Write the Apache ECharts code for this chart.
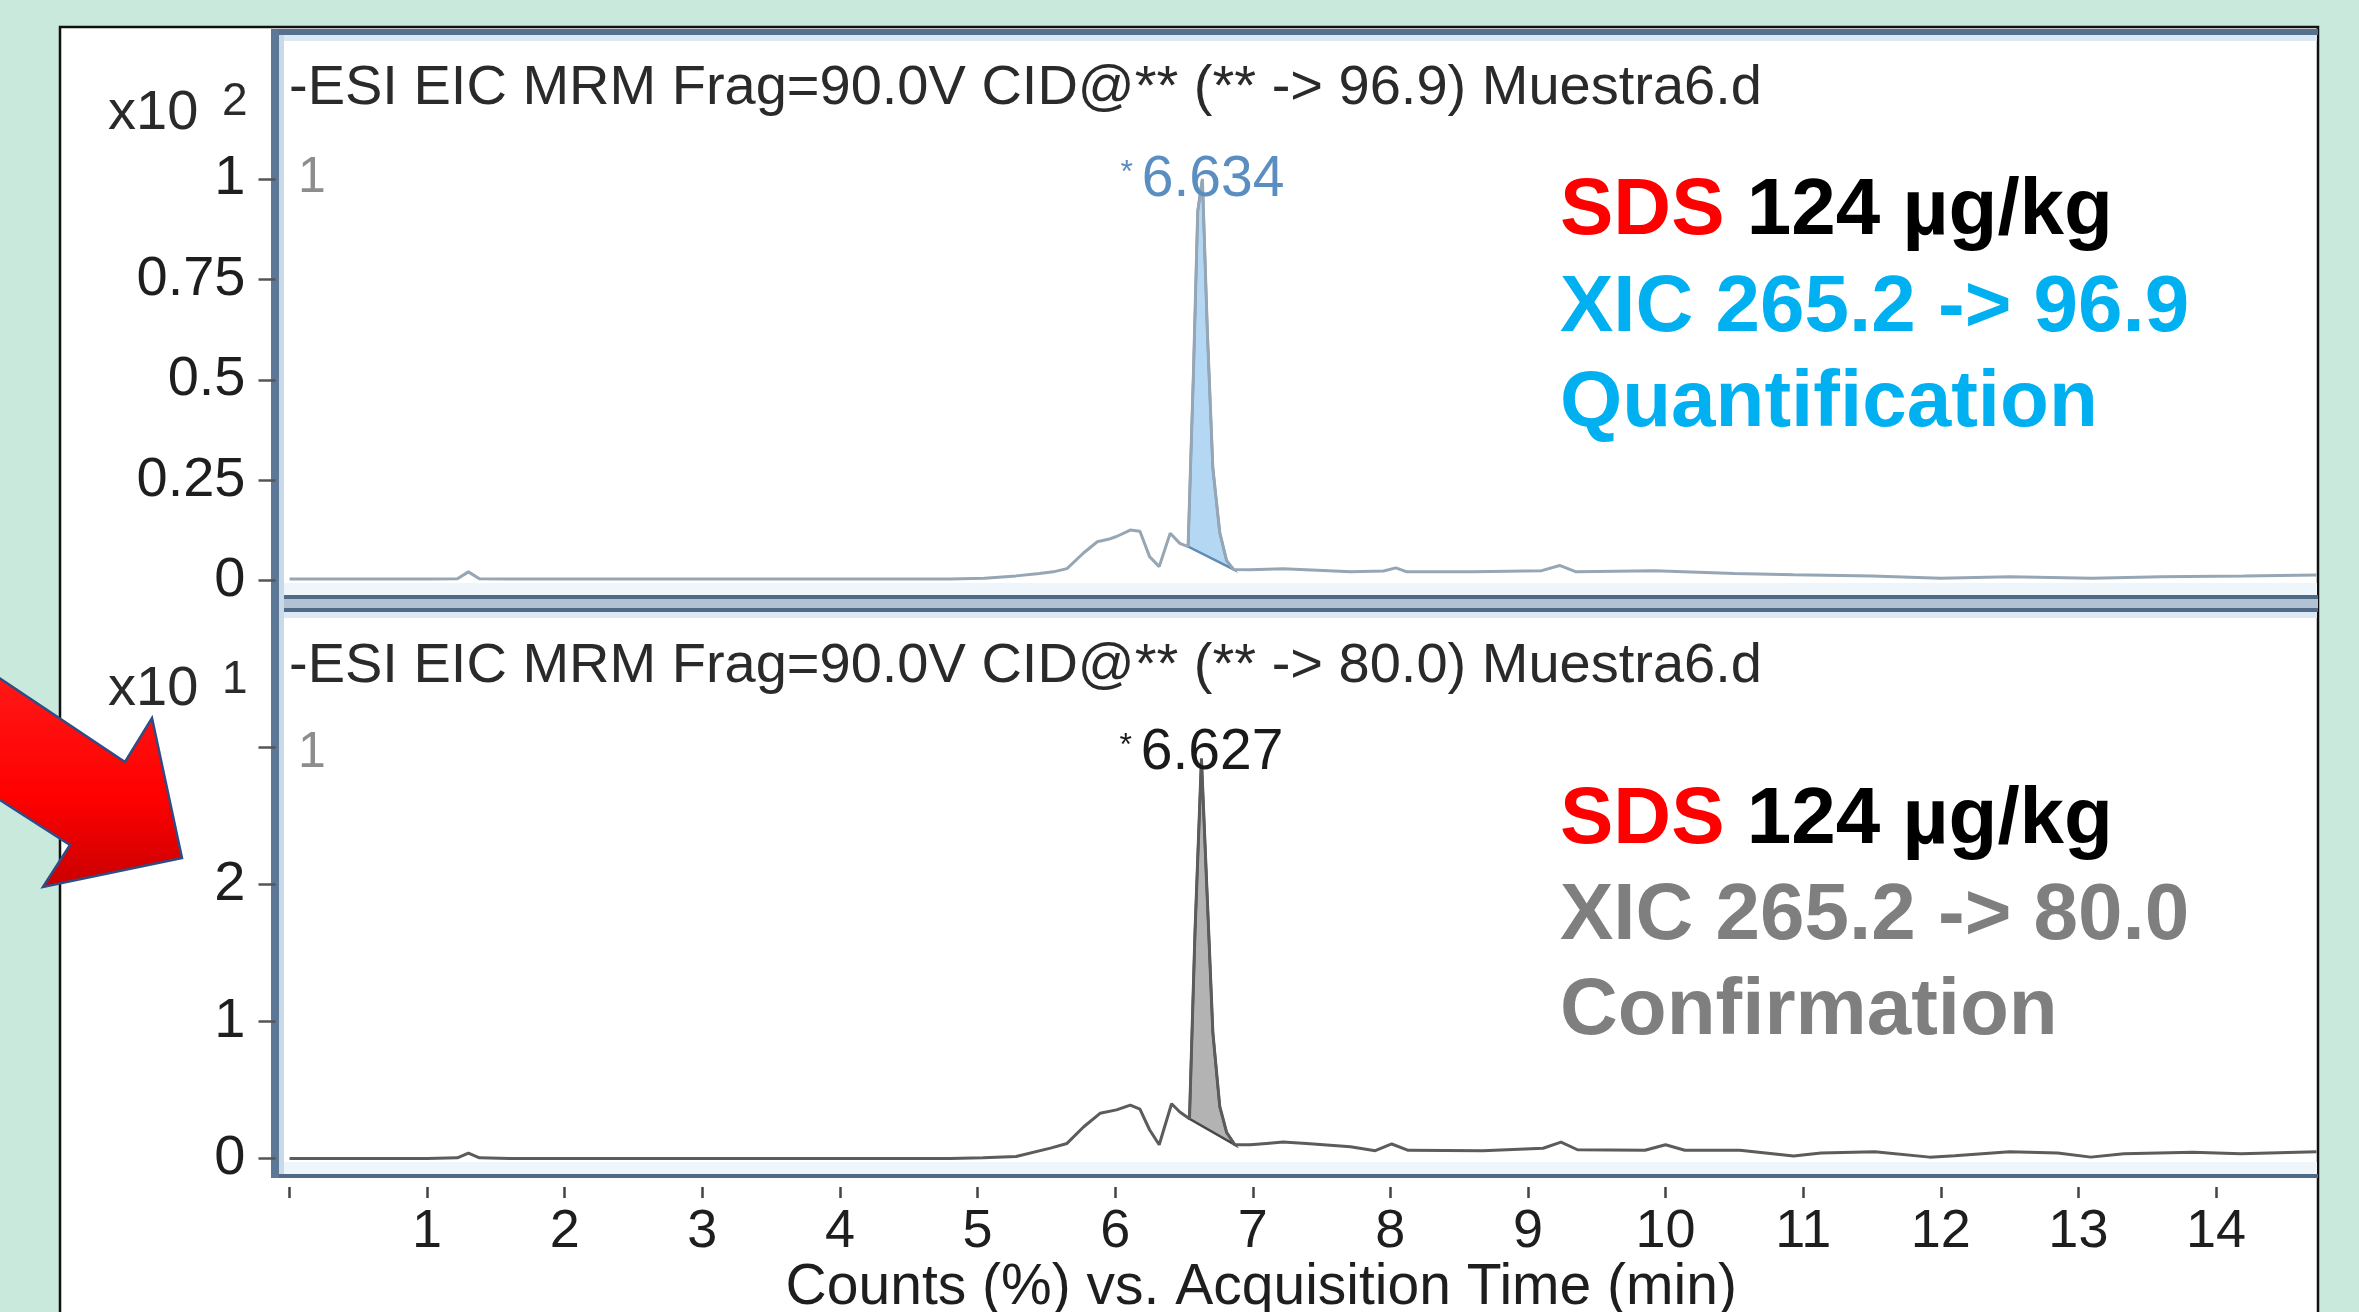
<!DOCTYPE html>
<html>
<head>
<meta charset="utf-8">
<title>SDS XIC</title>
<script src="https://cdn.jsdelivr.net/npm/echarts@6/dist/echarts.min.js"></script>
<style>
  html, body { margin: 0; padding: 0; background: #c8e9dc; }
  #chart { width: 2359px; height: 1312px; }
</style>
</head>
<body>
<div id="chart"></div>
<script>
// quantifier trace 265.2 -> 96.9 (counts x10^2)
const quantTime = [0, 0.5, 1.0, 1.22, 1.30, 1.38, 1.6, 2.5, 3.5, 4.5, 4.8, 5.05, 5.28, 5.45, 5.55, 5.65,
  5.77, 5.87, 5.95, 6.01, 6.11, 6.18, 6.25, 6.32, 6.40, 6.47, 6.53, 6.57, 6.60, 6.634, 6.67, 6.71, 6.76,
  6.81, 6.86, 6.98, 7.22, 7.47, 7.71, 7.95, 8.04, 8.12, 8.6, 9.1, 9.23, 9.35, 9.92, 10.5, 10.93, 11.5,
  12.0, 12.5, 13.1, 13.6, 14.2, 14.73]
const quantCounts = [0.004, 0.004, 0.004, 0.005, 0.022, 0.005, 0.004, 0.004, 0.004, 0.004, 0.004, 0.006,
  0.012, 0.018, 0.022, 0.03, 0.069, 0.097, 0.103, 0.11, 0.126, 0.123, 0.06, 0.035, 0.118, 0.093, 0.085,
  0.53, 0.92, 1.0, 0.62, 0.28, 0.12, 0.05, 0.028, 0.027, 0.03, 0.026, 0.022, 0.024, 0.032, 0.022, 0.022,
  0.025, 0.038, 0.022, 0.025, 0.018, 0.015, 0.012, 0.006, 0.01, 0.006, 0.01, 0.012, 0.014]

// qualifier trace 265.2 -> 80.0 (counts x10^1)
const confTime = [0, 0.5, 1.0, 1.22, 1.30, 1.38, 1.6, 2.5, 3.5, 4.5, 4.8, 5.04, 5.28, 5.53, 5.65, 5.77,
  5.89, 6.01, 6.11, 6.18, 6.25, 6.32, 6.41, 6.47, 6.54, 6.58, 6.627, 6.67, 6.71, 6.76, 6.81, 6.87, 6.98,
  7.1, 7.22, 7.39, 7.71, 7.89, 8.01, 8.13, 8.67, 9.11, 9.24, 9.36, 9.85, 10.0, 10.14, 10.54, 10.93, 11.13,
  11.52, 11.92, 12.1, 12.5, 12.85, 13.09, 13.33, 13.83, 14.18, 14.73]
const confCounts = [0, 0, 0, 0.005, 0.04, 0.005, 0, 0, 0, 0, 0, 0.005, 0.015, 0.076, 0.11, 0.23, 0.33,
  0.355, 0.39, 0.36, 0.21, 0.10, 0.40, 0.34, 0.29, 1.65, 2.92, 1.89, 0.92, 0.38, 0.19, 0.10, 0.10, 0.11,
  0.12, 0.11, 0.086, 0.057, 0.106, 0.06, 0.057, 0.075, 0.12, 0.064, 0.06, 0.10, 0.06, 0.06, 0.018, 0.04,
  0.05, 0.01, 0.02, 0.05, 0.04, 0.01, 0.035, 0.045, 0.035, 0.05]

// integrated peaks: apex time, start and end of the integration
const quantPeak = [6.634, 6.53, 6.86]
const confPeak = [6.627, 6.54, 6.87]

const timeTicks = [0, 1, 2, 3, 4, 5, 6, 7, 8, 9, 10, 11, 12, 13, 14]
const timeLabels = [1, 2, 3, 4, 5, 6, 7, 8, 9, 10, 11, 12, 13, 14]
const quantTicks = [0, 0.25, 0.5, 0.75, 1]
const confTicks = [0, 1, 2, 3]
const confLabels = [0, 1, 2]

const FONT = "'Liberation Sans', Arial, Helvetica, sans-serif"
const TIME_MIN = -0.102
const TIME_MAX = 14.734

const pairs = (t, v) => t.map((x, i) => [x, v[i]])

// filled area of the integrated peak, closed by its drop baseline
const peakArea = (time, counts, peak, axis, fill, stroke) => {
  const i0 = time.indexOf(peak[1])
  const i1 = time.indexOf(peak[2])
  const pts = pairs(time.slice(i0, i1 + 1), counts.slice(i0, i1 + 1))
  return {
    type: 'custom',
    xAxisIndex: axis,
    yAxisIndex: axis,
    silent: true,
    z: 3,
    data: [pts[0]],
    renderItem: (params, api) => ({
      type: 'polygon',
      shape: { points: pts.map(p => api.coord(p)) },
      style: { fill: fill, stroke: stroke, lineWidth: 2.5 }
    })
  }
}

const trace = (time, counts, peak, axis, color, labelColor, dy) => {
  const apex = counts[time.indexOf(peak[0])]
  return {
    type: 'line',
    xAxisIndex: axis,
    yAxisIndex: axis,
    data: pairs(time, counts),
    showSymbol: false,
    symbol: 'none',
    clip: false,
    z: 4,
    lineStyle: { color: color, width: 3 },
    markPoint: {
      symbol: 'circle',
      symbolSize: 1,
      itemStyle: { color: 'transparent' },
      silent: true,
      data: [{ coord: [peak[0], apex] }],
      label: {
        show: true,
        position: 'inside',
        offset: [0, dy],
        formatter: '{s|* }{n|' + peak[0].toFixed(3) + '}',
        rich: {
          s: { fontSize: 32, color: labelColor, fontFamily: FONT, padding: [0, 0, 14, 0] },
          n: { fontSize: 57, color: labelColor, fontFamily: FONT }
        }
      }
    }
  }
}

// y axes sit on the frame edge, not on time zero
const yAxisBase = {
  type: 'value',
  position: 'left',
  offset: 0,
  z: 5,
  axisLine: { show: true, onZero: false, lineStyle: { color: 'rgba(0,0,0,0)', width: 1 } },
  axisTick: { show: true, inside: false, length: 17, lineStyle: { color: '#555', width: 2.5 } },
  axisLabel: { fontSize: 56, margin: 30, color: '#1e1e1e', fontFamily: FONT },
  splitLine: { show: false }
}

const titleText = (text, left, top, size, color, weight) => ({
  text: text,
  left: left,
  top: top,
  padding: 0,
  textStyle: { fontSize: size, color: color, fontWeight: weight || 'normal', fontFamily: FONT, lineHeight: size }
})

const richTitle = (text, left, top, rich) => ({
  text: text,
  left: left,
  top: top,
  padding: 0,
  textStyle: { fontSize: 80, lineHeight: 80, fontFamily: FONT, fontWeight: 'bold', rich: rich }
})

const bold = c => ({ color: c, fontSize: 80, lineHeight: 80, fontWeight: 'bold', fontFamily: FONT })

const chart = echarts.init(document.getElementById('chart'))

const option = {
  backgroundColor: '#c8e9dc',
  animation: false,
  title: [
    titleText('-ESI EIC MRM Frag=90.0V CID@** (** -> 96.9) Muestra6.d', 289, 61, 56, '#2a2a2a'),
    titleText('-ESI EIC MRM Frag=90.0V CID@** (** -> 80.0) Muestra6.d', 289, 639, 56, '#2a2a2a'),
    titleText('x10', 108, 86, 56, '#2a2a2a'),
    titleText('2', 222, 79, 46, '#2a2a2a'),
    titleText('x10', 108, 662, 56, '#2a2a2a'),
    titleText('1', 222, 657, 46, '#2a2a2a'),
    titleText('1', 298, 153, 50, '#8d8d8d'),
    titleText('1', 298, 728, 50, '#8d8d8d'),
    richTitle('{r|SDS}{k| 124 µg/kg}', 1560, 172, { r: bold('#ff0000'), k: bold('#000000') }),
    richTitle('{c|XIC 265.2 -> 96.9}', 1560, 269, { c: bold('#00b0f0') }),
    richTitle('{c|Quantification}', 1560, 364, { c: bold('#00b0f0') }),
    richTitle('{r|SDS}{k| 124 µg/kg}', 1560, 781, { r: bold('#ff0000'), k: bold('#000000') }),
    richTitle('{g|XIC 265.2 -> 80.0}', 1560, 877, { g: bold('#7f7f7f') }),
    richTitle('{g|Confirmation}', 1560, 972, { g: bold('#7f7f7f') })
  ],
  grid: [
    { left: 275.5, right: 42, top: 179, bottom: 731.3, outerBoundsMode: 'none' },
    { left: 275.5, right: 42, top: 747.7, bottom: 153.5, outerBoundsMode: 'none' },
    // strip below the lower frame that carries the time axis
    { left: 275.5, right: 42, top: 1180, bottom: 125, outerBoundsMode: 'none' }
  ],
  xAxis: [
    { gridIndex: 0, type: 'value', min: TIME_MIN, max: TIME_MAX, show: false },
    { gridIndex: 1, type: 'value', min: TIME_MIN, max: TIME_MAX, show: false },
    {
      gridIndex: 2,
      type: 'value',
      position: 'bottom',
      min: TIME_MIN,
      max: TIME_MAX,
      axisLine: { show: true, onZero: false, lineStyle: { color: 'rgba(0,0,0,0)', width: 1 } },
      axisTick: { show: true, inside: false, length: 11, customValues: timeTicks, lineStyle: { color: '#444', width: 2.5 } },
      axisLabel: {
        customValues: timeLabels,
        fontSize: 54,
        margin: 18,
        color: '#1e1e1e',
        fontFamily: FONT,
        formatter: v => (timeLabels.includes(v) ? String(v) : '')
      },
      splitLine: { show: false },
      name: 'Counts (%) vs. Acquisition Time (min)',
      nameLocation: 'middle',
      nameGap: 68,
      nameTextStyle: { fontSize: 57, color: '#1e1e1e', fontFamily: FONT, padding: [0, 70, 0, 0] }
    }
  ],
  yAxis: [
    Object.assign({}, yAxisBase, {
      gridIndex: 0, min: 0, max: 1, interval: 0.25,
      axisTick: Object.assign({}, yAxisBase.axisTick, { customValues: quantTicks })
    }),
    Object.assign({}, yAxisBase, {
      gridIndex: 1, min: 0, max: 3, interval: 1,
      axisTick: Object.assign({}, yAxisBase.axisTick, { customValues: confTicks }),
      axisLabel: Object.assign({}, yAxisBase.axisLabel, {
        customValues: confLabels,
        formatter: v => (confLabels.includes(v) ? String(v) : '')
      })
    }),
    { gridIndex: 2, type: 'value', min: 0, max: 1, show: false }
  ],
  series: [
    peakArea(quantTime, quantCounts, quantPeak, 0, '#b4d8f4', '#5f8bb3'),
    trace(quantTime, quantCounts, quantPeak, 0, '#97a6b4', '#5b8ec0', 1),
    peakArea(confTime, confCounts, confPeak, 1, '#b3b3b3', '#474747'),
    trace(confTime, confCounts, confPeak, 1, '#5c5c5c', '#1a1a1a', -5)
  ],
  graphic: [
    // slide panel
    { type: 'rect', z: -10, shape: { x: 60, y: 27, width: 2258, height: 1310 }, style: { fill: '#ffffff', stroke: '#111111', lineWidth: 2.5 } },
    // plot frames
    { type: 'rect', z: 1, shape: { x: 272, y: 29, width: 2046, height: 6 }, style: { fill: '#56708f' } },
    { type: 'rect', z: 1, shape: { x: 280, y: 35, width: 2037, height: 6 }, style: { fill: '#dce9f4' } },
    { type: 'rect', z: 1, shape: { x: 280, y: 583, width: 2037, height: 12 }, style: { fill: '#eef6fb' } },
    { type: 'rect', z: 1, shape: { x: 272, y: 595, width: 2046, height: 17 }, style: { fill: '#b0c2d4' } },
    { type: 'rect', z: 1, shape: { x: 272, y: 595, width: 2046, height: 4 }, style: { fill: '#4f6986' } },
    { type: 'rect', z: 1, shape: { x: 272, y: 608, width: 2046, height: 4 }, style: { fill: '#4f6986' } },
    { type: 'rect', z: 1, shape: { x: 280, y: 612, width: 2037, height: 6 }, style: { fill: '#dce9f4' } },
    { type: 'rect', z: 1, shape: { x: 280, y: 1162, width: 2037, height: 12 }, style: { fill: '#eef6fb' } },
    { type: 'rect', z: 1, shape: { x: 272, y: 1174, width: 2046, height: 4 }, style: { fill: '#4f6986' } },
    { type: 'rect', z: 1, shape: { x: 271, y: 29, width: 8, height: 1149 }, style: { fill: '#5d7797' } },
    { type: 'rect', z: 1, shape: { x: 279, y: 35, width: 5, height: 1139 }, style: { fill: '#c9d9e8' } },
    // red arrow
    {
      type: 'polygon',
      z: 10,
      shape: { points: [[-20, 665], [125, 762], [152, 718], [182, 858], [43, 887], [70, 845], [-20, 787]] },
      style: {
        fill: new echarts.graphic.LinearGradient(0, 0, 0, 1, [
          { offset: 0, color: '#ff1a1a' },
          { offset: 0.6, color: '#ff0000' },
          { offset: 1, color: '#c80000' }
        ]),
        stroke: '#2f4c85',
        lineWidth: 2.5
      }
    }
  ]
}

chart.setOption(option)
window.addEventListener('resize', () => chart && chart.resize())
</script>
</body>
</html>
